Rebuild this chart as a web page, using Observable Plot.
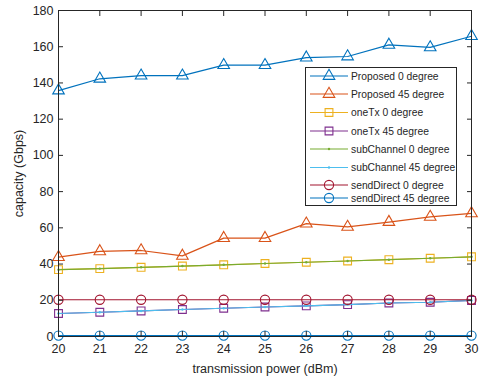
<!DOCTYPE html>
<html><head><meta charset="utf-8">
<script src="https://cdn.jsdelivr.net/npm/d3@7"></script>
<script src="https://cdn.jsdelivr.net/npm/@observablehq/plot@0.6"></script>
<style>html,body{margin:0;padding:0;background:#fff;}#chart{position:relative;width:483px;height:381px;}</style>
</head><body><div id="chart"></div>
<script>
const power = [20,21,22,23,24,25,26,27,28,29,30];
const proposed0 = [135.8,142.3,144,144,149.8,149.8,154,154.6,161,159.6,165.8];
const proposed45 = [43.8,47,47.5,44.5,54.3,54.3,62.3,60.5,63.2,66,68];
const oneTx0 = [36.9,37.5,38.2,38.9,39.6,40.3,41,41.7,42.4,43.2,44];
const oneTx45 = [12.7,13.4,14.1,14.9,15.6,16.3,16.9,17.6,18.5,18.9,19.9];
const subChannel0 = [36.9,37.5,38.2,38.9,39.6,40.3,41,41.7,42.4,43.2,44];
const subChannel45 = [12.7,13.4,14.1,14.9,15.6,16.3,16.9,17.6,18.5,18.9,19.9];
const sendDirect0 = [20.3,20.3,20.3,20.3,20.3,20.3,20.3,20.3,20.3,20.3,20.3];
const sendDirect45 = [0.5,0.5,0.5,0.5,0.5,0.5,0.5,0.5,0.5,0.5,0.5];
const seriesNames = ["Proposed 0 degree","Proposed 45 degree","oneTx 0 degree","oneTx 45 degree","subChannel 0 degree","subChannel 45 degree","sendDirect 0 degree","sendDirect 45 degree"];
const seriesValues = [proposed0, proposed45, oneTx0, oneTx45, subChannel0, subChannel45, sendDirect0, sendDirect45];
const seriesColors = ["#0072BD","#D95319","#EDB120","#7E2F8E","#77AC30","#4DBEEE","#A2142F","#0072BD"];
const seriesMarkers = ["triangle","triangle","square","square","dot","dot","circle","circle"];
const xTicks = power;
const yTicks = [0,20,40,60,80,100,120,140,160,180];

const markerR = {triangle: 4.3, square: 4.4, circle: 4.6, dot: 1.2};
const marks = [];
seriesNames.forEach((name, i) => {
  const rows = power.map((p, j) => ({p, v: seriesValues[i][j]}));
  marks.push(Plot.line(rows, {x: "p", y: "v", stroke: seriesColors[i], strokeWidth: 1.2}));
  const m = seriesMarkers[i];
  if (m === "dot") {
    marks.push(Plot.dot(rows, {x: "p", y: "v", r: markerR.dot, fill: seriesColors[i], stroke: "none"}));
  } else {
    marks.push(Plot.dot(rows, {x: "p", y: "v", r: markerR[m], symbol: m, fill: "none", stroke: seriesColors[i], strokeWidth: 1.1}));
  }
});

const axisColor = "#262626";
const chart = Plot.plot({
  width: 483, height: 381,
  marginLeft: 58, marginRight: 12, marginTop: 10, marginBottom: 45,
  style: {fontFamily: "'Liberation Sans', Arial, Helvetica, sans-serif", fontSize: "12px", color: axisColor, background: "#fff"},
  x: {domain: [20, 30]},
  y: {domain: [0, 180]},
  marks: [
    ...marks,
    Plot.frame({stroke: axisColor, strokeWidth: 1}),
    Plot.axisX({anchor: "bottom", ticks: xTicks, tickSize: -5, tickPadding: 13, tickFormat: d => String(d), fontSize: 12.5, label: "transmission power (dBm)", labelAnchor: "center", labelArrow: "none", labelOffset: 36, stroke: axisColor}),
    Plot.axisX({anchor: "top", ticks: xTicks, tickSize: -5, tickFormat: () => "", label: null, stroke: axisColor}),
    Plot.axisY({anchor: "left", ticks: yTicks, tickSize: -5, tickPadding: 10, tickFormat: d => String(d), fontSize: 12.5, label: "capacity (Gbps)", labelAnchor: "center", labelArrow: "none", labelOffset: 44, stroke: axisColor}),
    Plot.axisY({anchor: "right", ticks: yTicks, tickSize: -5, tickFormat: () => "", label: null, stroke: axisColor})
  ]
});
document.getElementById("chart").appendChild(chart);

// Legend (inside the plot SVG, like MATLAB's)
const svg = d3.select(chart);
const lg = svg.append("g").attr("font-family", "'Liberation Sans', Arial, sans-serif").attr("font-size", 10.3).attr("fill", axisColor).attr("text-anchor", "start");
lg.append("rect").attr("x", 305.5).attr("y", 67.5).attr("width", 151).attr("height", 138).attr("fill", "#fff").attr("stroke", axisColor).attr("stroke-width", 1);
const rowY = [76, 94, 112.5, 131, 149, 167.5, 185, 198];
seriesNames.forEach((name, i) => {
  const y = rowY[i];
  lg.append("line").attr("x1", 310).attr("x2", 348).attr("y1", y).attr("y2", y).attr("stroke", seriesColors[i]).attr("stroke-width", 1.2);
  const m = seriesMarkers[i];
  if (m === "dot") {
    lg.append("circle").attr("cx", 329).attr("cy", y).attr("r", 1.2).attr("fill", seriesColors[i]);
  } else {
    const sym = {triangle: d3.symbolTriangle, square: d3.symbolSquare, circle: d3.symbolCircle}[m];
    const r = markerR[m];
    lg.append("path").attr("d", d3.symbol(sym, Math.PI * r * r)()).attr("transform", `translate(329,${y})`).attr("fill", "none").attr("stroke", seriesColors[i]).attr("stroke-width", 1.1);
  }
  lg.append("text").attr("x", 351).attr("y", y).attr("dy", "0.35em").attr("text-anchor", "start").text(name);
});
</script></body></html>
